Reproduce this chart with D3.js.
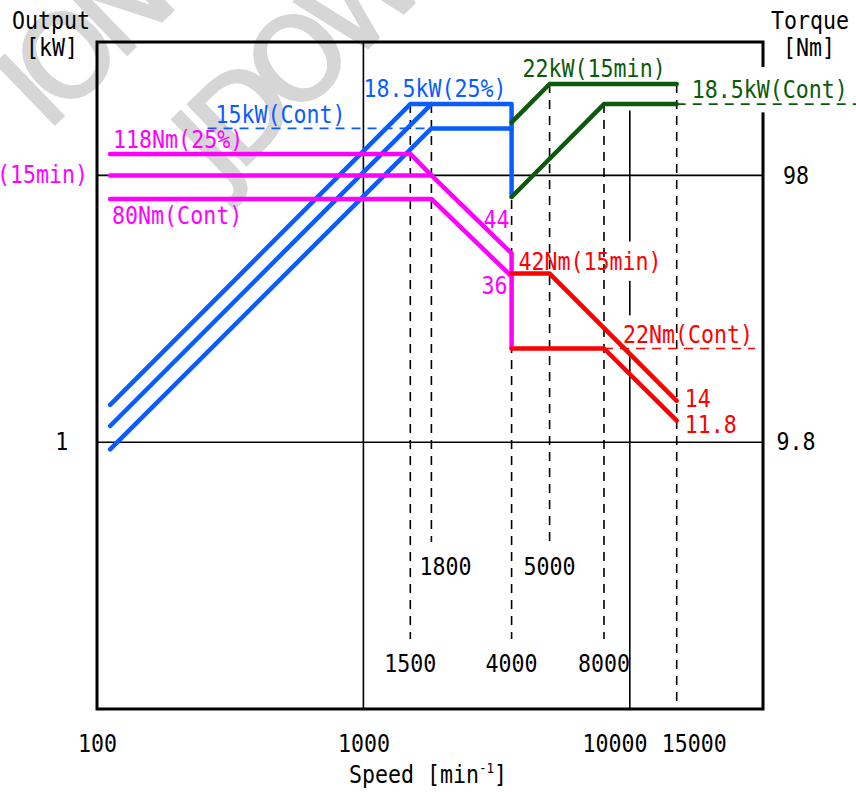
<!DOCTYPE html>
<html>
<head>
<meta charset="utf-8">
<script src="https://cdn.jsdelivr.net/npm/d3@7"></script>
<style>
body { margin: 0; background: #fff; }
svg text { font-family: "DejaVu Sans Mono", monospace; font-size: 24px; }
</style>
</head>
<body>
<div id="chart"></div>
<script>
// speed in min^-1, output in kW, torque in Nm
const out25     = [[112, 1.38], [1500, 18.5], [3600, 18.5], [3600, 8.3]];
const out15     = [[112, 1.15], [1800, 18.5]];
const outCont   = [[112, 0.94], [1800, 15], [3600, 15]];
const outHi15   = [[3600, 15.8], [5000, 22], [15000, 22]];
const outHiCont = [[3600, 8.3], [8000, 18.5], [15000, 18.5]];

const trq25     = [[112, 118], [1500, 118], [1800, 98], [3600, 50], [3600, 22]];
const trq15     = [[112, 98], [1800, 98]];
const trqCont   = [[112, 80], [1800, 80], [3600, 41]];
const trqHi15   = [[3600, 42], [5000, 42], [15000, 14]];
const trqHiCont = [[3600, 22], [8000, 22], [15000, 11.8]];

// winding change points
const breakSpeeds = [1500, 1800, 3600, 5000, 8000, 15000];
const breakLabels = ["1500", "1800", "4000", "5000", "8000", ""];
const breakTopKw  = [18.5, 18.5, 18.5, 22, 18.5, 22];

// dashed rating levels: 15kW(Cont), 18.5kW(Cont), 22Nm(Cont)
const dashLevels = [15, 18.5, 22];
const dashFrom   = [260, 15000, 8000];
const dashTo     = [1800, 71000, 29500];

const speedTicks  = [100, 1000, 10000, 15000];
const outputTicks = [1];
const torqueTicks = [9.8, 98];

const BLUE = "#0a5cff", MAG = "#ff00ff", RED = "#ff0000", GREEN = "#0b5a0b";
const SQ = "scale(0.9,1)";   // narrow CAD-like lettering

const width = 856, height = 792;
const svg = d3.select("#chart").append("svg")
    .attr("width", width)
    .attr("height", height);

const x = d3.scaleLog().domain([100, 31623]).range([97, 763]);
const yOut = d3.scaleLog().domain([0.1, 31.62]).range([709, 42]);
const yTrq = d3.scaleLog().domain([0.98, 309.9]).range([709, 42]);

const gWm = svg.append("g");
const gGrid = svg.append("g");
const gBg = svg.append("g");
const gDash = svg.append("g");
const gCurves = svg.append("g");
const gText = svg.append("g");

// watermark
gWm.selectAll("text")
    .data([["ION", 18, 102], ["JDOW", 194, 158]])
    .enter().append("text")
    .attr("transform", d => "translate(" + d[1] + "," + d[2] + ") rotate(-44)")
    .attr("dy", "0.36em")
    .style("font-family", "DejaVu Sans")
    .style("font-size", "115px")
    .style("letter-spacing", "-12px")
    .attr("fill", "#d6d6d6")
    .attr("stroke", "#d6d6d6")
    .attr("stroke-width", 3)
    .text(d => d[0]);

// grid
gGrid.append("line")
    .attr("x1", x(1000)).attr("x2", x(1000))
    .attr("y1", yOut.range()[1]).attr("y2", yOut.range()[0]);
gGrid.append("line")
    .attr("x1", x(10000)).attr("x2", x(10000))
    .attr("y1", yOut(17.5)).attr("y2", yOut.range()[0]);
gGrid.selectAll(".h")
    .data([1, 10])
    .enter().append("line")
    .attr("x1", x.range()[0]).attr("x2", x.range()[1])
    .attr("y1", d => yOut(d)).attr("y2", d => yOut(d));
gGrid.selectAll("line").attr("stroke", "#000").attr("stroke-width", 1.6);

gGrid.append("rect")
    .attr("x", x.range()[0]).attr("y", yOut.range()[1])
    .attr("width", x.range()[1] - x.range()[0])
    .attr("height", yOut.range()[0] - yOut.range()[1])
    .attr("fill", "none").attr("stroke", "#000").attr("stroke-width", 3);

// label helper
function label(txt, px, py, color, anchor, padY) {
    const tr = "translate(" + px + "," + py + ") " + SQ;
    const t = gText.append("text")
        .attr("transform", tr)
        .attr("fill", color)
        .attr("text-anchor", anchor || "start")
        .text(txt);
    if (padY !== undefined) {
        const b = t.node().getBBox();
        gBg.append("rect")
            .attr("transform", tr)
            .attr("x", b.x - 3).attr("y", b.y - padY)
            .attr("width", b.width + 6).attr("height", b.height + 2 * padY)
            .attr("fill", "#fff");
    }
    return t;
}

// vertical dashed lines at break speeds
const rowBase = [575, 672];
const breakRow = [1, 0, 1, 0, 1, 2];
gDash.selectAll(".v")
    .data(breakSpeeds)
    .enter().append("line")
    .attr("x1", d => x(d)).attr("x2", d => x(d))
    .attr("y1", (d, i) => yOut(breakTopKw[i]))
    .attr("y2", (d, i) => breakRow[i] === 2 ? yOut.range()[0] : rowBase[breakRow[i]] - 33)
    .attr("stroke", "#000")
    .attr("stroke-width", 1.6)
    .attr("stroke-dasharray", "9,7");

breakSpeeds.forEach(function(s, i) {
    if (!breakLabels[i]) return;
    label(breakLabels[i], x(s) + (s === 1800 ? 14 : 0), rowBase[breakRow[i]], "#000", "middle");
});

// dashed rating levels
const dashScale = [yOut, yOut, yTrq];
const dashColor = [BLUE, GREEN, RED];
dashLevels.forEach(function(v, i) {
    gDash.append("line")
        .attr("x1", x(dashFrom[i])).attr("x2", x(dashTo[i]))
        .attr("y1", dashScale[i](v)).attr("y2", dashScale[i](v))
        .attr("stroke", dashColor[i])
        .attr("stroke-width", 1.6)
        .attr("stroke-dasharray", "9,7");
});

// curves
const series = [
    { pts: out25, y: yOut, color: BLUE },
    { pts: out15, y: yOut, color: BLUE },
    { pts: outCont, y: yOut, color: BLUE },
    { pts: outHi15, y: yOut, color: GREEN },
    { pts: outHiCont, y: yOut, color: GREEN },
    { pts: trq25, y: yTrq, color: MAG },
    { pts: trq15, y: yTrq, color: MAG },
    { pts: trqCont, y: yTrq, color: MAG },
    { pts: trqHi15, y: yTrq, color: RED },
    { pts: trqHiCont, y: yTrq, color: RED }
];
series.forEach(function(s) {
    const line = d3.line().x(d => x(d[0])).y(d => s.y(d[1]));
    gCurves.append("path")
        .attr("d", line(s.pts))
        .attr("fill", "none")
        .attr("stroke", s.color)
        .attr("stroke-width", 4.5)
        .attr("stroke-linecap", "round")
        .attr("stroke-linejoin", "round");
});

// curve labels
label("18.5kW(25%)", x(1000), yOut(18.5) - 7, BLUE);
label("15kW(Cont)", x(260) + 8, yOut(15) - 5, BLUE);
label("22kW(15min)", x(5000) - 27, yOut(22) - 7, GREEN);
label("18.5kW(Cont)", x(15000) + 15, yOut(18.5) - 6, GREEN, "start", 9);
label("118Nm(25%)", x(112) + 3, yTrq(118) - 6, MAG);
label("98Nm(15min)", 88, yTrq(98) + 8, MAG, "end");
label("80Nm(Cont)", x(112) + 2, yTrq(80) + 25, MAG);
label("44", x(3600) - 2, 228, MAG, "end");
label("36", x(3600) - 4, 294, MAG, "end");
label("42Nm(15min)", x(3600) + 7, yTrq(42) - 4, RED, "start", 6);
label("22Nm(Cont)", x(8000) + 19, yTrq(22) - 6, RED, "start", 5);
label("14", x(15000) + 8, yTrq(14) + 6, RED);
label("11.8", x(15000) + 8, yTrq(11.8) + 12, RED);

// axes
const xAxis = svg.append("g")
    .attr("transform", "translate(0,732)")
    .call(d3.axisBottom(x).tickValues(speedTicks).tickSize(0).tickFormat(d3.format("d")));
xAxis.selectAll("text")
    .attr("dx", d => d === 10000 ? -17 : d === 15000 ? 19 : 0);

const yAxisL = svg.append("g")
    .attr("transform", "translate(71,0)")
    .call(d3.axisLeft(yOut).tickValues(outputTicks).tickSize(0).tickFormat(d3.format("d")));

const yAxisR = svg.append("g")
    .attr("transform", "translate(796,0)")
    .call(d3.axisRight(yTrq).tickValues(torqueTicks).tickSize(0).tickFormat(d => String(d)));
yAxisR.selectAll("text").attr("x", 0).attr("text-anchor", "middle");

[xAxis, yAxisL, yAxisR].forEach(function(a) {
    a.select(".domain").remove();
    a.selectAll("text")
        .attr("transform", SQ)
        .style("font-family", "DejaVu Sans Mono, monospace")
        .style("font-size", "24px")
        .attr("fill", "#000");
});

// axis titles
label("Output", 51, 29, "#000", "middle");
label("[kW]", 52, 56, "#000", "middle");
label("Torque", 810, 29, "#000", "middle");
label("[Nm]", 809, 56, "#000", "middle");

const sp = gText.append("text")
    .attr("transform", "translate(428,783) " + SQ)
    .attr("text-anchor", "middle")
    .attr("fill", "#000");
sp.append("tspan").text("Speed [min");
sp.append("tspan").attr("dy", -10).style("font-size", "14px").text("-1");
sp.append("tspan").attr("dy", 10).text("]");
</script>
</body>
</html>
